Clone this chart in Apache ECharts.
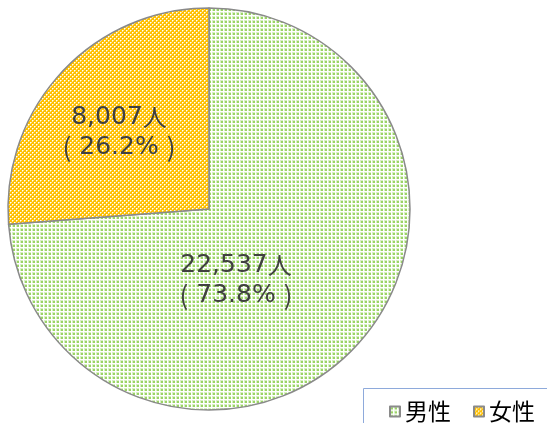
<!DOCTYPE html>
<html>
<head>
<meta charset="utf-8">
<script src="https://cdn.jsdelivr.net/npm/echarts@6/dist/echarts.min.js"></script>
<style>
html,body{margin:0;padding:0;background:#fff;}
#chart{width:547px;height:423px;}
</style>
</head>
<body>
<div id="chart"></div>
<script>
// 男女別人数
var categories = ['男性', '女性'];
var values = [22537, 8007];
var percents = ['73.8%', '26.2%'];

// 塗りつぶしパターン
function makePattern(type) {
    var c = document.createElement('canvas');
    c.width = 4;
    c.height = 4;
    var ctx = c.getContext('2d');
    if (type == 'green') {
        ctx.fillStyle = '#ffffff';
        ctx.fillRect(0, 0, 4, 4);
        ctx.fillStyle = '#d8efc4';
        ctx.fillRect(0, 0, 3, 3);
        ctx.fillStyle = '#9ad465';
        ctx.fillRect(1, 1, 2, 2);
    } else {
        ctx.fillStyle = '#ffc000';
        ctx.fillRect(0, 0, 4, 4);
        ctx.fillStyle = '#ffffff';
        ctx.fillRect(0, 0, 1, 1);
        ctx.fillRect(2, 2, 1, 1);
        ctx.fillStyle = '#ffe28a';
        ctx.fillRect(1, 0, 1, 1);
        ctx.fillRect(0, 1, 1, 1);
        ctx.fillRect(3, 2, 1, 1);
        ctx.fillRect(2, 3, 1, 1);
    }
    return c;
}

var patterns = [makePattern('green'), makePattern('orange')];
// ラベル位置（中心座標）
var labelPos = [[236, 280], [119, 132]];

var data = [];
for (var i = 0; i < categories.length; i++) {
    data.push({
        name: categories[i],
        value: values[i],
        itemStyle: {
            color: {image: patterns[i], repeat: 'repeat'}
        }
    });
}

var option = {
    animation: false,
    legend: {
        data: categories,
        left: 384,
        top: 395,
        icon: 'rect',
        itemWidth: 10,
        itemHeight: 10,
        itemGap: 22,
        textStyle: {
            fontSize: 23,
            color: '#000',
            fontFamily: 'Noto Sans CJK JP'
        }
    },
    graphic: [{
        type: 'rect',
        shape: {x: 363.5, y: 388.5, width: 220, height: 60},
        style: {fill: 'none', stroke: '#8eaadb', lineWidth: 1}
    }],
    series: [{
        type: 'pie',
        center: [209, 209],
        radius: 201,
        startAngle: 90,
        clockwise: true,
        itemStyle: {
            borderColor: '#8a8a8a',
            borderWidth: 1.5
        },
        label: {
            show: true,
            position: 'inside',
            formatter: function (p) {
                return '{n|' + p.value.toLocaleString('en-US') + '}{c|人}\n{p|(}{n| ' + percents[p.dataIndex] + ' }{p|)}';
            },
            lineHeight: 30,
            color: '#404040',
            rich: {
                n: {fontSize: 25, lineHeight: 30, color: '#404040', fontFamily: 'DejaVu Sans'},
                c: {fontSize: 24, lineHeight: 30, color: '#404040', fontFamily: 'Noto Sans CJK JP'},
                p: {fontSize: 26, lineHeight: 30, color: '#404040', fontFamily: 'Noto Sans CJK JP'}
            }
        },
        labelLayout: function (params) {
            return {
                x: labelPos[params.dataIndex][0],
                y: labelPos[params.dataIndex][1],
                align: 'center',
                verticalAlign: 'middle'
            };
        },
        emphasis: {disabled: true},
        data: data
    }]
};

var myChart = echarts.init(document.getElementById('chart'));
myChart.setOption(option);
</script>
</body>
</html>
